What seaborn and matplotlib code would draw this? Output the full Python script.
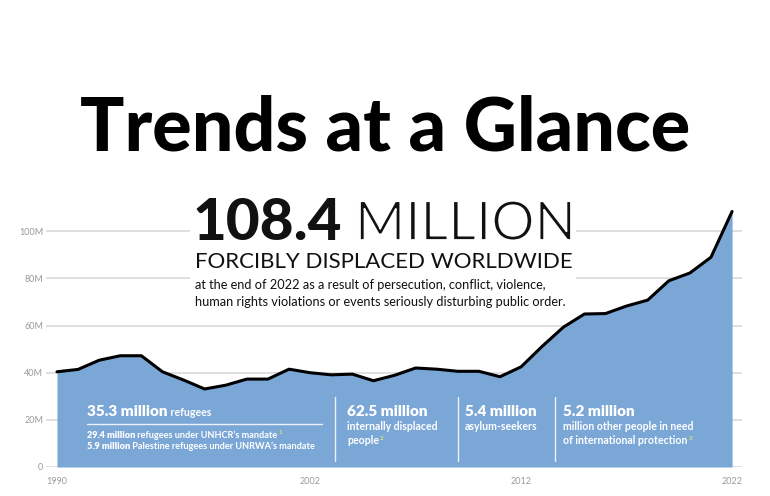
import matplotlib
matplotlib.use("Agg")
import matplotlib.pyplot as plt
import seaborn as sns
import pandas as pd
from matplotlib.patches import Rectangle
from matplotlib.lines import Line2D
import matplotlib.patheffects as pe

# ---------------- data ----------------
years = list(range(1990, 2023))
displaced_millions = [40.4, 41.4, 45.3, 47.2, 47.2, 40.4, 36.9, 33.1, 34.7, 37.3,
                      37.3, 41.5, 40.0, 39.1, 39.4, 36.6, 38.9, 42.0, 41.5, 40.6,
                      40.6, 38.3, 42.5, 51.2, 59.3, 64.9, 65.1, 68.3, 70.8, 79.0,
                      82.3, 89.0, 108.4]
y_ticks = [0, 20, 40, 60, 80, 100]
y_tick_labels = ["0", "20M", "40M", "60M", "80M", "100M"]
x_ticks = [1990, 2002, 2012, 2022]
x_tick_labels = ["1990", "2002", "2012", "2022"]

df = pd.DataFrame({"year": years, "displaced": displaced_millions})

# ---------------- style ----------------
sns.set_theme(style="white")
FONT = ["Lato", "DejaVu Sans"]
plt.rcParams["font.family"] = FONT

W, H = 770, 496
fig = plt.figure(figsize=(W / 100, H / 100), dpi=100)
fig.patch.set_facecolor("white")

def fx(px):
    return px / W

def fy(py):
    return 1 - py / H

# axes placement (pixels): left 46, right 742, bottom 467, top 203
ax = fig.add_axes([fx(46), fy(467), (742 - 46) / W, (467 - 203) / H])
ax.set_facecolor("white")

AREA = "#7BA7D7"
ax.fill_between(df["year"], df["displaced"], 0, color=AREA, zorder=2, linewidth=0)
sns.lineplot(data=df, x="year", y="displaced", ax=ax, color="black",
             linewidth=2.2, zorder=3)

ax.set_xlim(1989.48, 2022.47)
ax.set_ylim(0, 112)
ax.set_yticks(y_ticks)
ax.set_yticklabels(y_tick_labels)
ax.set_xticks(x_ticks)
ax.set_xticklabels(x_tick_labels)
ax.set_xlabel("")
ax.set_ylabel("")
for s in ax.spines.values():
    s.set_visible(False)
ax.set_axisbelow(True)
ax.grid(axis="y", color="#d9d9d9", linewidth=1.2, zorder=0)
ax.grid(axis="x", visible=False)
ax.tick_params(axis="y", length=0, pad=2, labelsize=6.5, labelcolor="#9a9a9a")
ax.tick_params(axis="x", length=0, pad=7, labelsize=6.5, labelcolor="#9a9a9a")

# white box behind headline text
ax.add_patch(Rectangle((1996.3, 66), 18.3, 60, facecolor="white",
                       edgecolor="none", zorder=1, clip_on=False))

# ---------------- texts ----------------
fig.canvas.draw()
renderer = fig.canvas.get_renderer()

def seq(x, y, parts):
    """Place text parts one after another starting at pixel (x, y baseline)."""
    cx = x
    for txt, kw in parts:
        t = fig.text(fx(cx), fy(y), txt, va="baseline", ha="left", **kw)
        bb = t.get_window_extent(renderer=renderer)
        cx = bb.x1
    return cx

fig.text(0.5, fy(150), "Trends at a Glance", ha="center", va="baseline",
         fontsize=53, fontweight="black", color="black", family=FONT)

fig.text(fx(193), fy(240), "108.4", ha="left", va="baseline",
         fontsize=42, fontweight="black", color="#111111")
# light-weight "MILLION": regular glyphs thinned by a white outline stroke
fig.text(fx(355), fy(240), "MILLION", ha="left", va="baseline",
         fontsize=39, fontweight="normal", color="#111111",
         path_effects=[pe.Normal(), pe.Stroke(linewidth=1.3, foreground="white")])
fig.text(fx(195), fy(268), "FORCIBLY DISPLACED WORLDWIDE", ha="left",
         va="baseline", fontsize=16, color="#111111")
fig.text(fx(195), fy(289), "at the end of 2022 as a result of persecution, conflict, violence,",
         ha="left", va="baseline", fontsize=9.2, color="#111111")
fig.text(fx(195), fy(306), "human rights violations or events seriously disturbing public order.",
         ha="left", va="baseline", fontsize=9.2, color="#111111")

WH = "white"
GREEN = "#d7e86a"
big = dict(fontsize=11, fontweight="heavy", color=WH)
mid = dict(fontsize=7.6, fontweight="bold", color=WH)
sm_b = dict(fontsize=6.6, fontweight="heavy", color=WH)
sm = dict(fontsize=6.6, fontweight="bold", color=WH)
sup = dict(fontsize=4.5, fontweight="bold", color=GREEN)

# refugees block
seq(87, 416, [("35.3 million", big), (" refugees", mid)])
fig.add_artist(Line2D([fx(87), fx(322)], [fy(424), fy(424)], color=WH,
                      linewidth=1.0, alpha=0.85, transform=fig.transFigure))
e = seq(87, 438, [("29.4 million", sm_b), (" refugees under UNHCR\u2019s mandate", sm)])
fig.text(fx(e + 1), fy(434), "1", **sup)
seq(87, 449, [("5.9 million", sm_b), (" Palestine refugees under UNRWA\u2019s mandate", sm)])

# separators
for sx in [335, 458, 555]:
    fig.add_artist(Line2D([fx(sx), fx(sx)], [fy(397), fy(461)], color=WH,
                          linewidth=1.0, alpha=0.85, transform=fig.transFigure))

# IDPs
seq(347, 416, [("62.5 million", big)])
seq(347, 430, [("internally displaced", mid)])
e = seq(347, 444, [("people", mid)])
fig.text(fx(e + 1), fy(440), "2", **sup)

# asylum seekers
seq(465, 416, [("5.4 million", big)])
seq(465, 430, [("asylum-seekers", mid)])

# others
seq(563, 416, [("5.2 million", big)])
seq(563, 430, [("million other people in need", mid)])
e = seq(563, 444, [("of international protection", mid)])
fig.text(fx(e + 1), fy(440), "3", **sup)

fig.savefig("out.png", dpi=100, facecolor="white")
